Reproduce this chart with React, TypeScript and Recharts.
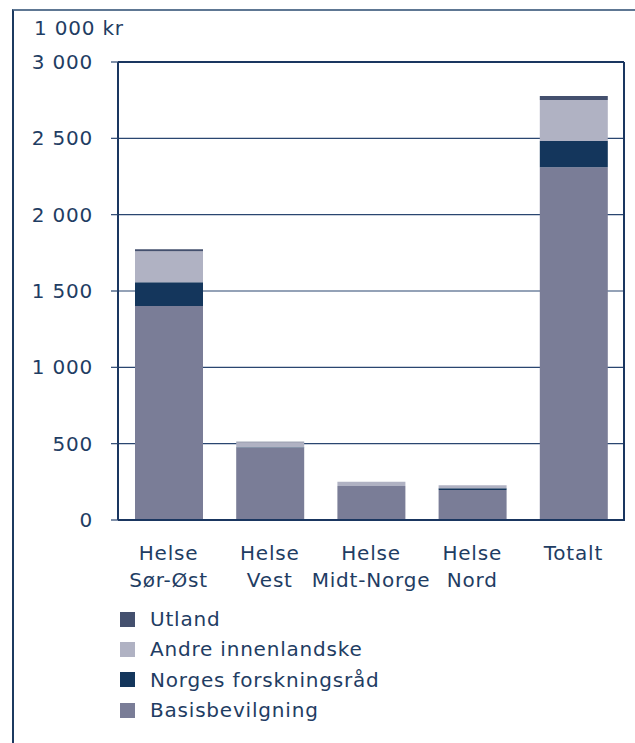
import React from 'react';
import { BarChart, Bar, XAxis, YAxis, CartesianGrid } from 'recharts';

const categories = ['Helse Sør-Øst', 'Helse Vest', 'Helse Midt-Norge', 'Helse Nord', 'Totalt'];
const tickLines = [['Helse', 'Sør-Øst'], ['Helse', 'Vest'], ['Helse', 'Midt-Norge'], ['Helse', 'Nord'], ['Totalt']];

const basisbevilgning = [1402, 474, 223, 196, 2310];
const forskningsrad = [155, 2, 0, 12, 172];
const andreInnenlandske = [203, 34, 28, 20, 269];
const utland = [13, 2, 0, 0, 26];

const yTicks = [0, 500, 1000, 1500, 2000, 2500, 3000];

const series = [
  { key: 'utland', name: 'Utland', color: '#44506e' },
  { key: 'andre', name: 'Andre innenlandske', color: '#b0b2c3' },
  { key: 'nfr', name: 'Norges forskningsråd', color: '#14365c' },
  { key: 'basis', name: 'Basisbevilgning', color: '#7a7d97' },
];

const data = categories.map((c, i) => ({
  name: c,
  basis: basisbevilgning[i],
  nfr: forskningsrad[i],
  andre: andreInnenlandske[i],
  utland: utland[i],
}));

const textColor = '#1f3d63';
const font = '"DejaVu Sans", Verdana, sans-serif';
const spacing = '0.8px';

const fmt = (v: number) => (v >= 1000 ? `${Math.floor(v / 1000)} ${String(v % 1000).padStart(3, '0')}` : String(v));

const CategoryTick = ({ x, payload }: any) => {
  const lines = tickLines[payload.index] || [payload.value];
  return (
    <text x={x} y={560} textAnchor="middle" fill={textColor} fontSize={20} fontFamily={font} letterSpacing={spacing}>
      {lines.map((l: string, i: number) => (
        <tspan key={i} x={x} dy={i === 0 ? 0 : 26.7}>{l}</tspan>
      ))}
    </text>
  );
};

export default function App() {
  // bars stack bottom-up: basis, nfr, andre, utland
  const stackOrder = ['basis', 'nfr', 'andre', 'utland'];
  return (
    <div style={{ position: 'absolute', left: 0, top: 0, width: 635, height: 743, background: '#fff', fontFamily: font, letterSpacing: spacing }}>
      <div style={{
        position: 'absolute', left: 12, top: 9, width: 623, height: 734,
        borderTop: '2px solid #5e7793', borderLeft: '2px solid #1c3a60', boxSizing: 'border-box',
      }} />
      <div style={{ position: 'absolute', left: 34, top: 16, fontSize: 20, color: textColor }}>1 000 kr</div>
      <BarChart
        width={635}
        height={743}
        data={data}
        margin={{ top: 62, right: 11, left: 0, bottom: 143 }}
        barSize={68}
        style={{ position: 'absolute', left: 0, top: 0 }}
      >
        <CartesianGrid vertical={false} stroke="#2a4670" strokeWidth={1.2} />
        <XAxis
          dataKey="name"
          height={80}
          interval={0}
          tickLine={false}
          axisLine={{ stroke: '#1a3660', strokeWidth: 2 }}
          tick={<CategoryTick />}
        />
        <YAxis
          width={118}
          domain={[0, 3000]}
          ticks={yTicks}
          tickFormatter={fmt}
          tickSize={7}
          tickMargin={18}
          axisLine={{ stroke: '#1a3660', strokeWidth: 2 }}
          tickLine={{ stroke: '#2a4670', strokeWidth: 1.2 }}
          tick={{ fill: textColor, fontSize: 20, fontFamily: font, letterSpacing: spacing }}
        />
        {stackOrder.map(k => {
          const s = series.find(x => x.key === k)!;
          return (
            <Bar key={k} dataKey={k} name={s.name} stackId="a" fill={s.color} isAnimationActive={false} />
          );
        })}
      </BarChart>
      <svg width={635} height={743} style={{ position: 'absolute', left: 0, top: 0, pointerEvents: 'none' }}>
        <line x1={118} y1={62} x2={624} y2={62} stroke="#1a3660" strokeWidth={2} />
        <line x1={624} y1={62} x2={624} y2={521} stroke="#1a3660" strokeWidth={2} />
      </svg>
      <div style={{ position: 'absolute', left: 120, top: 604 }}>
        {series.map(s => (
          <div key={s.key} style={{ display: 'flex', alignItems: 'center', height: 30.3 }}>
            <div style={{ width: 15, height: 15, background: s.color, marginRight: 15 }} />
            <span style={{ fontSize: 20, color: textColor }}>{s.name}</span>
          </div>
        ))}
      </div>
    </div>
  );
}
